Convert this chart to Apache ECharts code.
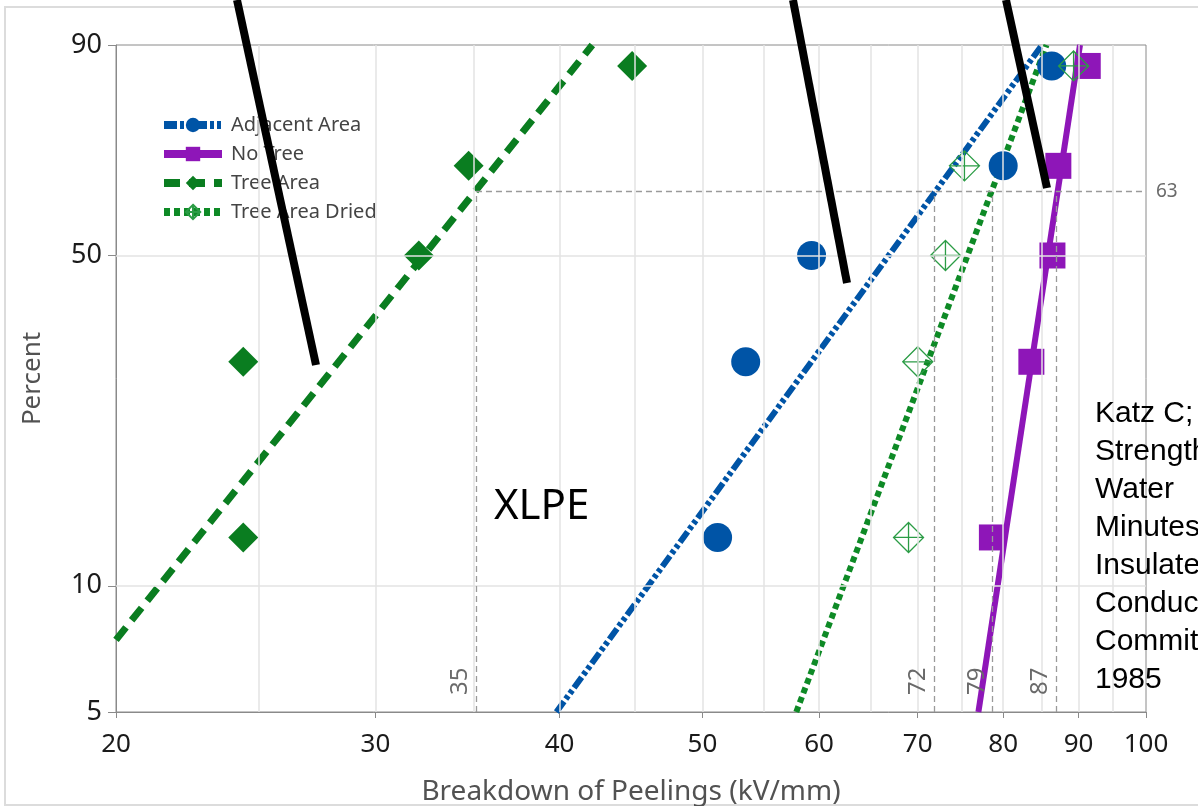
<!DOCTYPE html>
<html><head><meta charset="utf-8">
<script src="https://cdn.jsdelivr.net/npm/echarts@6/dist/echarts.min.js"></script>
<style>html,body{margin:0;padding:0;background:#fff}#c{width:1198px;height:806px}</style>
</head><body><div id="c"></div><script>
// ---------- data ----------
const seriesNames = ['Adjacent Area', 'No Tree', 'Tree Area', 'Tree Area Dried'];
const plotPercents = [12.96, 31.48, 50, 68.52, 87.04];
const adjacentArea = [51.2, 53.5, 59.3, 80.0, 86.3];
const noTree = [78.6, 83.6, 86.4, 87.2, 91.3];
const treeArea = [24.4, 24.4, 32.1, 34.7, 44.8];
const treeAreaDried = [69.0, 70.0, 73.1, 75.3, 89.3];
// fitted Weibull lines: end points [kV/mm, percent]
const fitAdjacent = [[39.8, 5], [85.0, 90]];
const fitNoTree = [[76.96, 5], [90.2, 90]];
const fitTree = [[20, 7.45], [42.1, 90]];
const fitDried = [[57.9, 5], [85.6, 90]];
// reference lines (scale values at 63.2 %)
const refScale = [35.1, 71.8, 78.7, 86.9];
const refPercent = 63.2;
// axes
const xRange = [20, 100];
const yRange = [5, 90];
const xTickLabels = [20, 30, 40, 50, 60, 70, 80, 90, 100];
const xGridValues = [25, 30, 35, 40, 45, 50, 55, 60, 65, 70, 75, 80, 85, 90, 95];
const yTickLabels = [5, 10, 50, 90];
const yGridValues = [10, 50];

// ---------- scales ----------
const fx = v => Math.log10(v);
const fy = p => Math.log(-Math.log(1 - p / 100));
const pt = (v, p) => [fx(v), fy(p)];

const C = { blue: '#0054a6', purple: '#8e16b8', green: '#0a7d20', dried: '#0e8a26', driedMk: '#2b9c45' };
const axisGrey = '#8a8a8a', gridGrey = '#e3e3e3', refGrey = '#9a9a9a';
const FONT = 'Noto Sans';
const driedSymbol = 'path://M0,-10L10,0L0,10L-10,0Z M0,-10L0,10 M-10,0L10,0';

const gridLines = [
  ...xGridValues.map(v => [{ coord: pt(v, yRange[0]) }, { coord: pt(v, yRange[1]) }]),
  ...yGridValues.map(p => [{ coord: pt(xRange[0], p) }, { coord: pt(xRange[1], p) }])
];
const refLines = [
  [{ coord: pt(refScale[0], refPercent), name: String(Math.round(refPercent)),
     label: { position: 'end', distance: [10, 0], fontSize: 19 } },
   { coord: pt(xRange[1], refPercent) }],
  ...refScale.map(v => [
    { coord: pt(v, yRange[0]), name: String(Math.round(v)),
      label: { position: 'insideStartTop', distance: [17, 4], fontSize: 24 } },
    { coord: pt(v, refPercent) }])
];

function fitSeries(name, pts, color, type, width, symbol, itemStyle) {
  return {
    type: 'line', name, data: pts.map(p => pt(p[0], p[1])), showSymbol: false,
    symbol, symbolSize: 14, itemStyle, z: 3, silent: true, animation: false,
    lineStyle: { color, width, type, cap: 'butt' }
  };
}
function pointSeries(name, vals, symbol, size, itemStyle) {
  return {
    type: 'scatter', name, data: vals.map((v, i) => pt(v, plotPercents[i])),
    symbol, symbolSize: size, itemStyle: Object.assign({ opacity: 1 }, itemStyle),
    z: 4, silent: true, animation: false
  };
}

const option = {
  animation: false,
  grid: { left: 116, right: 52, top: 45, bottom: 94, show: true, borderColor: axisGrey, borderWidth: 1,
    outerBoundsMode: 'none', containLabel: false },
  xAxis: {
    type: 'value', min: fx(xRange[0]), max: fx(xRange[1]),
    axisLine: { show: true, onZero: false, lineStyle: { color: axisGrey, width: 1 } },
    axisTick: { show: true, customValues: xTickLabels.map(fx), length: 6, lineStyle: { color: axisGrey } },
    axisLabel: { customValues: xTickLabels.map(fx), formatter: v => String(Math.round(Math.pow(10, v))),
      fontSize: 26, color: '#1a1a1a', margin: 20, fontFamily: FONT },
    splitLine: { show: false },
    name: 'Breakdown of Peelings (kV/mm)', nameLocation: 'middle', nameGap: 66,
    nameTextStyle: { fontSize: 28, color: '#525252', fontFamily: FONT }
  },
  yAxis: {
    type: 'value', min: fy(yRange[0]), max: fy(yRange[1]),
    axisLine: { show: true, onZero: false, lineStyle: { color: axisGrey, width: 1 } },
    axisTick: { show: true, customValues: yTickLabels.map(fy), length: 8, lineStyle: { color: axisGrey } },
    axisLabel: { customValues: yTickLabels.map(fy),
      formatter: v => String(Math.round(100 * (1 - Math.exp(-Math.exp(v))))),
      fontSize: 27, color: '#1a1a1a', margin: 14, fontFamily: FONT },
    splitLine: { show: false },
    name: 'Percent', nameLocation: 'middle', nameGap: 70,
    nameTextStyle: { fontSize: 26, color: '#525252', fontFamily: FONT }
  },
  legend: {
    data: seriesNames, orient: 'vertical', left: 160, top: 115, padding: 0,
    itemWidth: 58, itemHeight: 18, itemGap: 9, selectedMode: false,
    lineStyle: { width: 8 },
    textStyle: { fontSize: 20, color: '#444', fontFamily: FONT, lineHeight: 18, padding: [0, 0, 0, 4] }
  },
  series: [
    fitSeries('Adjacent Area', fitAdjacent, C.blue, [13, 3, 4, 3, 4, 3], 6, 'circle', { color: C.blue }),
    fitSeries('No Tree', fitNoTree, C.purple, 'solid', 6, 'rect', { color: C.purple }),
    fitSeries('Tree Area', fitTree, C.green, [16, 9], 7, 'diamond', { color: C.green }),
    fitSeries('Tree Area Dried', fitDried, C.dried, [6, 4], 6, driedSymbol,
      { color: 'rgba(0,0,0,0)', borderColor: C.driedMk, borderWidth: 1.3 }),
    {
      type: 'scatter', name: '_grid', data: [], z: 1, silent: true, animation: false,
      markLine: { silent: true, symbol: ['none', 'none'], animation: false, label: { show: false },
        lineStyle: { color: gridGrey, width: 1.5, type: 'solid' }, data: gridLines }
    },
    {
      type: 'scatter', name: '_ref', data: [], z: 2, silent: true, animation: false,
      markLine: { silent: true, symbol: ['none', 'none'], animation: false,
        label: { show: true, formatter: '{b}', color: '#6a6a6a', fontFamily: FONT },
        lineStyle: { color: refGrey, width: 1.3, type: [6, 4] }, data: refLines }
    },
    pointSeries('Adjacent Area', adjacentArea, 'circle', 29, { color: C.blue }),
    pointSeries('No Tree', noTree, 'rect', 26, { color: C.purple }),
    pointSeries('Tree Area', treeArea, 'diamond', 30, { color: C.green }),
    pointSeries('Tree Area Dried', treeAreaDried, driedSymbol, 30,
      { color: 'rgba(0,0,0,0)', borderColor: C.driedMk, borderWidth: 1.3 })
  ],
  graphic: [
    { type: 'rect', shape: { x: 5, y: 7, width: 1260, height: 798 }, silent: true, z: 0,
      style: { fill: 'none', stroke: '#dcdcdc', lineWidth: 2 } },
    { type: 'text', x: 494, y: 507, z: 50, silent: true,
      style: { text: 'XLPE', font: '42px "Noto Sans"', fill: '#000', verticalAlign: 'middle' } },
    { type: 'text', x: 1095, y: 395, z: 50, silent: true,
      style: { text: 'Katz C;\nStrength\nWater\nMinutes\nInsulated\nConductors\nCommittee\n1985',
        font: '30px "Liberation Sans"', lineHeight: 38, fill: '#000', verticalAlign: 'top' } },
    { type: 'line', z: 100, silent: true, shape: { x1: 237, y1: 0, x2: 316, y2: 365 }, style: { stroke: '#000', lineWidth: 8 } },
    { type: 'line', z: 100, silent: true, shape: { x1: 793, y1: 0, x2: 847, y2: 283 }, style: { stroke: '#000', lineWidth: 8 } },
    { type: 'line', z: 100, silent: true, shape: { x1: 1006, y1: 0, x2: 1047, y2: 188 }, style: { stroke: '#000', lineWidth: 8 } }
  ]
};
const chart = echarts.init(document.getElementById('c'), null, { renderer: 'canvas' });
chart.setOption(option);
</script></body></html>
